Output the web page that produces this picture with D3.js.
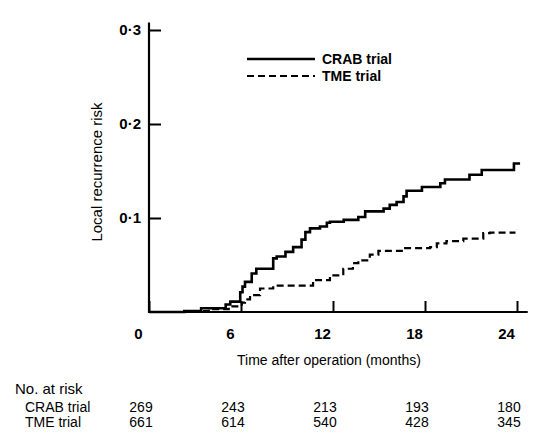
<!DOCTYPE html>
<html>
<head>
<meta charset="utf-8">
<script src="https://cdn.jsdelivr.net/npm/d3@7"></script>
<style>
  body { margin: 0; background: #fff; }
  svg { display: block; font-family: "Liberation Sans", Arial, sans-serif; }
</style>
</head>
<body>
<script>
// cumulative local recurrence risk (months, risk)
var crabTime = [0, 2.3, 3.4, 5.0, 5.3, 5.95, 6.1, 6.26, 6.7, 7.0, 8.1, 8.33, 8.9, 9.4, 9.95, 10.2, 10.5, 11.15, 11.6, 11.8, 12.7, 13.65, 14.1, 15.3, 15.7, 16.15, 16.6, 16.8, 17.8, 19.0, 19.3, 20.9, 21.7, 23.8, 24.2];
var crabRisk = [0, 0.001, 0.004, 0.008, 0.011, 0.021, 0.027, 0.032, 0.041, 0.046, 0.057, 0.059, 0.064, 0.069, 0.077, 0.085, 0.089, 0.091, 0.095, 0.096, 0.098, 0.101, 0.107, 0.110, 0.114, 0.117, 0.123, 0.129, 0.133, 0.137, 0.141, 0.146, 0.151, 0.158, 0.158];

var tmeTime = [0, 2.6, 3.9, 5.2, 6.05, 6.26, 6.59, 7.24, 8.1, 10.7, 11.8, 12.67, 13.3, 13.65, 14.4, 14.96, 16.59, 18.33, 18.77, 19.4, 20.5, 21.8, 22.24, 23.9];
var tmeRisk = [0, 0.001, 0.003, 0.006, 0.010, 0.0135, 0.018, 0.025, 0.028, 0.034, 0.039, 0.046, 0.052, 0.055, 0.061, 0.065, 0.068, 0.069, 0.073, 0.0755, 0.078, 0.084, 0.0845, 0.0845];

var xTicks = [0, 6, 12, 18, 24];
var yTicks = [0.1, 0.2, 0.3];
var series = ['CRAB trial', 'TME trial'];
var atRiskCrab = [269, 243, 213, 193, 180];
var atRiskTme = [661, 614, 540, 428, 345];

var W = 538, H = 445;
var svg = d3.select('body').append('svg')
  .attr('width', W)
  .attr('height', H);

var x = d3.scaleLinear().domain([0, 24]).range([149, 517]);
var y = d3.scaleLinear().domain([0, 0.3]).range([312, 30]);

// axes
var xAxis = d3.axisBottom(x)
  .tickValues(xTicks)
  .tickSizeInner(-11)
  .tickSizeOuter(0)
  .tickPadding(16);
var gx = svg.append('g').attr('transform', 'translate(0,' + y(0) + ')').call(xAxis);
gx.select('.domain').remove();
gx.selectAll('.tick line').attr('stroke', '#000').attr('stroke-width', 2);
gx.selectAll('.tick text')
  .attr('dx', -11)
  .attr('font-size', 15)
  .attr('font-weight', 'bold')
  .attr('font-family', '"Liberation Sans", Arial, sans-serif')
  .attr('fill', '#000');

var yAxis = d3.axisLeft(y)
  .tickValues(yTicks)
  .tickSizeInner(-12)
  .tickSizeOuter(0)
  .tickPadding(8)
  .tickFormat(function (d) { return d3.format('.1f')(d).replace('.', '\u00b7'); });
var gy = svg.append('g').attr('transform', 'translate(' + x(0) + ',0)').call(yAxis);
gy.select('.domain').remove();
gy.selectAll('.tick line').attr('stroke', '#000').attr('stroke-width', 2);
gy.selectAll('.tick text')
  .attr('font-size', 15)
  .attr('font-weight', 'bold')
  .attr('font-family', '"Liberation Sans", Arial, sans-serif')
  .attr('fill', '#000');

// axis lines run a little past the last ticks
svg.append('line')
  .attr('x1', x(0) - 1).attr('x2', x(24.7))
  .attr('y1', y(0)).attr('y2', y(0))
  .attr('stroke', '#000').attr('stroke-width', 2.2);
svg.append('line')
  .attr('x1', x(0)).attr('x2', x(0))
  .attr('y1', y(0) + 1).attr('y2', y(0.308))
  .attr('stroke', '#000').attr('stroke-width', 2.2);

// curves
var line = d3.line()
  .x(function (d) { return x(d[0]); })
  .y(function (d) { return y(d[1]); })
  .curve(d3.curveStepAfter);

var crab = d3.zip(crabTime, crabRisk);
var tme = d3.zip(tmeTime, tmeRisk);

svg.append('path')
  .datum(tme)
  .attr('d', line)
  .attr('fill', 'none')
  .attr('stroke', '#000')
  .attr('stroke-width', 2.2)
  .attr('stroke-dasharray', '7,4');

svg.append('path')
  .datum(crab)
  .attr('d', line)
  .attr('fill', 'none')
  .attr('stroke', '#000')
  .attr('stroke-width', 2.6);

// legend
var legY = [59, 76];
var dashes = [null, '7,4'];
series.forEach(function (s, i) {
  svg.append('line')
    .attr('x1', 247).attr('x2', 315)
    .attr('y1', legY[i]).attr('y2', legY[i])
    .attr('stroke', '#000')
    .attr('stroke-width', i === 0 ? 2.6 : 2.2)
    .attr('stroke-dasharray', dashes[i]);
  svg.append('text')
    .attr('x', 322)
    .attr('y', legY[i] + 5)
    .attr('font-size', 14)
    .attr('font-weight', 'bold')
    .text(s);
});

// titles
svg.append('text')
  .attr('x', x(12) - 4)
  .attr('y', 365)
  .attr('text-anchor', 'middle')
  .attr('font-size', 14)
  .text('Time after operation (months)');

svg.append('text')
  .attr('transform', 'translate(102,172) rotate(-90)')
  .attr('text-anchor', 'middle')
  .attr('font-size', 15)
  .text('Local recurrence risk');

// numbers at risk
svg.append('text')
  .attr('x', 15).attr('y', 394)
  .attr('font-size', 15)
  .text('No. at risk');

var rows = [atRiskCrab, atRiskTme];
var rowY = [412, 427];
rows.forEach(function (r, i) {
  svg.append('text')
    .attr('x', 25).attr('y', rowY[i])
    .attr('font-size', 14)
    .text(series[i]);
  svg.selectAll(null)
    .data(r)
    .enter().append('text')
    .attr('x', function (d, j) { return x(xTicks[j]) - 8; })
    .attr('y', rowY[i])
    .attr('text-anchor', 'middle')
    .attr('font-size', 14)
    .text(function (d) { return d; });
});
</script>
</body>
</html>
